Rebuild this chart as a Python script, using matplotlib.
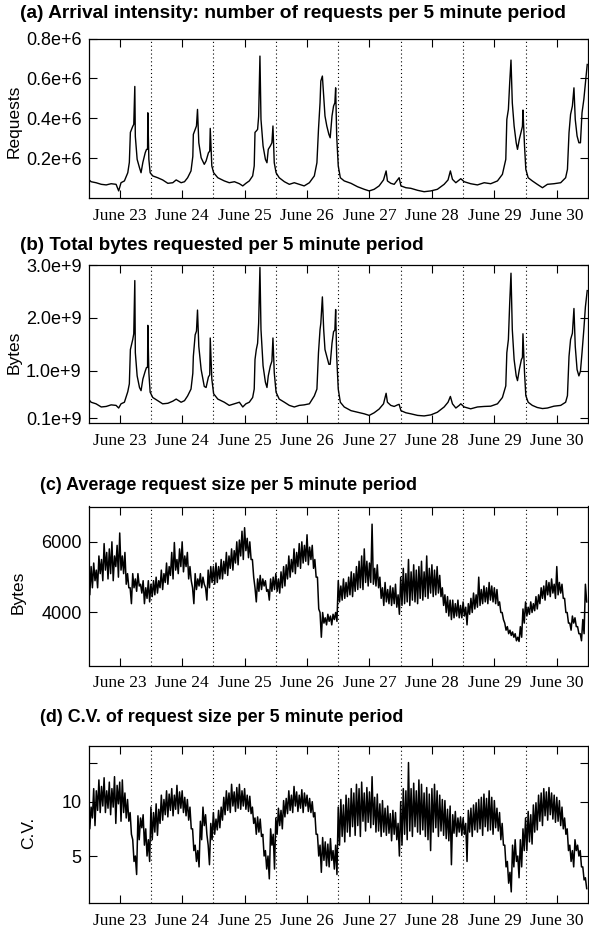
import numpy as np
import matplotlib
matplotlib.use("Agg")
import matplotlib.pyplot as plt

# ---------------- data ----------------
day_labels = ["June 23", "June 24", "June 25", "June 26",
              "June 27", "June 28", "June 29", "June 30"]

# sample times (hours since June 23 00:00) for panels (a) and (b)
hours_ab = [
    0.0, 1.0, 2.9, 4.9, 6.8, 8.7, 10.6, 11.6, 12.5, 13.8, 15.1, 15.7, 16.1, 17.0, 17.4, 17.8,
    18.0, 18.7, 19.6, 20.2, 20.9, 21.8, 22.3, 22.7, 22.8, 23.2, 23.7, 24.7, 26.6, 28.5, 30.5,
    32.4, 33.7, 35.6, 36.9, 38.1, 39.4, 40.1, 40.3, 41.0, 41.5, 41.9, 42.4, 43.3, 44.5, 45.2,
    46.1, 46.6, 46.8, 47.4, 48.1, 49.7, 52.2, 54.1, 56.1, 58.0, 59.3, 60.5, 61.8, 63.1, 63.7,
    64.0, 64.5, 65.0, 65.4, 65.9, 66.3, 67.1, 68.0, 68.6, 69.1, 69.9, 70.5, 70.9, 71.4, 72.1,
    73.3, 75.3, 77.2, 79.1, 81.0, 82.9, 84.9, 86.8, 87.8, 88.4, 89.0, 89.3, 89.9, 90.4, 90.9,
    91.6, 92.4, 92.9, 93.6, 94.2, 94.7, 95.0, 95.4, 96.0, 96.8, 98.3, 100.9, 103.4, 106.0,
    107.9, 109.8, 111.7, 113.4, 114.4, 114.9, 116.2, 117.5, 118.8, 119.4, 120.1, 122.0, 123.9,
    126.5, 129.0, 131.6, 134.1, 136.7, 138.2, 139.1, 139.9, 141.2, 142.5, 143.1, 144.4, 146.9,
    149.5, 152.1, 154.6, 157.2, 159.1, 160.4, 160.8, 161.4, 161.9, 162.4, 162.9, 163.6, 164.4,
    164.9, 165.6, 166.4, 166.8, 167.0, 167.6, 168.1, 169.0, 170.6, 172.5, 174.5, 176.4, 178.9,
    181.5, 183.4, 184.1, 184.7, 185.3, 186.0, 186.6, 187.1, 187.8, 188.5, 189.1, 189.7, 190.4,
    191.0, 191.7,
]

# (a) requests per 5 min, in millions
requests = [
    0.095, 0.083, 0.078, 0.070, 0.067, 0.073, 0.070, 0.037, 0.078, 0.087, 0.128, 0.180, 0.330, 0.360, 0.370, 0.560,
    0.310, 0.195, 0.153, 0.128, 0.180, 0.228, 0.245, 0.245, 0.428, 0.195, 0.128, 0.112, 0.103, 0.092, 0.075,
    0.078, 0.092, 0.078, 0.083, 0.103, 0.137, 0.210, 0.320, 0.345, 0.362, 0.445, 0.278, 0.203, 0.170, 0.187,
    0.228, 0.236, 0.350, 0.162, 0.128, 0.103, 0.087, 0.078, 0.083, 0.073, 0.062, 0.075, 0.087, 0.112, 0.162,
    0.330, 0.337, 0.345, 0.410, 0.712, 0.395, 0.262, 0.195, 0.178, 0.245, 0.262, 0.278, 0.362, 0.178, 0.128,
    0.103, 0.083, 0.070, 0.078, 0.070, 0.062, 0.078, 0.112, 0.178, 0.345, 0.478, 0.587, 0.612, 0.512, 0.412,
    0.362, 0.320, 0.303, 0.412, 0.462, 0.478, 0.553, 0.312, 0.162, 0.103, 0.087, 0.075, 0.058, 0.045,
    0.037, 0.045, 0.062, 0.092, 0.137, 0.087, 0.075, 0.070, 0.092, 0.103, 0.062, 0.053, 0.050,
    0.040, 0.033, 0.037, 0.045, 0.070, 0.092, 0.137, 0.095, 0.078, 0.092, 0.098, 0.083, 0.073,
    0.067, 0.078, 0.073, 0.087, 0.120, 0.195, 0.395, 0.445, 0.578, 0.692, 0.478, 0.362, 0.278,
    0.245, 0.295, 0.337, 0.360, 0.442, 0.262, 0.145, 0.103, 0.087, 0.070, 0.053, 0.070, 0.073,
    0.078, 0.103, 0.145, 0.328, 0.420, 0.462, 0.553, 0.395, 0.312, 0.278, 0.278, 0.428, 0.495,
    0.578, 0.670,
]

# (b) bytes per 5 min, in 1e9
bytes_total = [
    0.46, 0.40, 0.37, 0.31, 0.32, 0.35, 0.34, 0.29, 0.37, 0.40, 0.60, 0.75, 1.40, 1.59, 1.70, 2.71,
    1.34, 0.90, 0.68, 0.62, 0.84, 0.99, 1.06, 1.06, 1.86, 0.96, 0.59, 0.49, 0.43, 0.37, 0.38,
    0.42, 0.46, 0.40, 0.43, 0.52, 0.65, 0.95, 1.27, 1.68, 1.75, 2.15, 1.46, 1.02, 0.70, 0.68,
    0.88, 0.92, 1.62, 0.84, 0.56, 0.46, 0.40, 0.34, 0.37, 0.40, 0.31, 0.37, 0.40, 0.49, 0.65,
    1.21, 1.40, 1.52, 1.90, 2.96, 1.78, 1.09, 0.78, 0.68, 0.90, 1.09, 1.18, 1.62, 0.96, 0.59,
    0.46, 0.40, 0.34, 0.31, 0.34, 0.35, 0.37, 0.52, 0.65, 1.34, 1.78, 1.90, 2.40, 1.78, 1.40,
    1.27, 1.12, 1.12, 1.52, 1.74, 1.77, 2.16, 1.27, 0.65, 0.40, 0.31, 0.24, 0.21, 0.18,
    0.15, 0.20, 0.27, 0.37, 0.57, 0.40, 0.34, 0.32, 0.35, 0.36, 0.24, 0.20, 0.18,
    0.15, 0.14, 0.16, 0.21, 0.31, 0.40, 0.51, 0.37, 0.29, 0.34, 0.37, 0.31, 0.275,
    0.31, 0.32, 0.325, 0.37, 0.49, 0.71, 1.34, 1.59, 2.28, 2.85, 1.78, 1.21, 0.90,
    0.81, 1.02, 1.21, 1.25, 1.70, 0.96, 0.525, 0.40, 0.34, 0.30, 0.28, 0.29, 0.325,
    0.34, 0.40, 0.525, 1.27, 1.59, 1.71, 2.18, 1.46, 1.02, 0.90, 0.99, 1.34, 1.78,
    2.21, 2.52,
]

# (c) average request size (bytes): hourly upper / lower edge of the noisy trace
avg_hi = [
    5000, 5300, 5400, 5200, 5600, 5500, 5950, 5700, 5800, 6000, 5600, 5900, 6250, 5600, 5700, 5100, 4700, 5100, 4950, 5100, 4800, 4900, 4700, 4900,
    4800, 4900, 5000, 4900, 5200, 5100, 5400, 5300, 5700, 5980, 5500, 5800, 6000, 5600, 5700, 5300, 4700, 5100, 4950, 5100, 5000, 4700, 5200, 5300,
    5300, 5400, 5300, 5500, 5450, 5700, 5600, 5800, 5750, 6000, 6050, 6300, 6400, 6100, 6000, 5500, 4700, 4950, 5050, 4950, 4900, 4650, 4950, 5000,
    5100, 4950, 5150, 5300, 5350, 5600, 5500, 5800, 5700, 5950, 6000, 5900, 6200, 5850, 5900, 5500, 5000, 4000, 4000, 3850, 3950, 3900, 3950, 4000,
    4900, 4750, 4950, 4850, 5000, 5150, 5100, 5300, 5450, 5600, 5800, 5450, 5400, 6500, 5250, 5350, 5000, 4700, 4850, 4650, 4750, 4700, 4800, 4500,
    5000, 5250, 5100, 5500, 5150, 5350, 5200, 5300, 5450, 5150, 5600, 5250, 5350, 5200, 5300, 5050, 4700, 4500, 4450, 4350, 4350, 4250, 4350, 4200,
    4300, 4150, 4250, 4400, 4550, 4500, 5000, 4650, 4750, 4700, 4850, 4750, 4700, 4650, 4300, 4000, 3700, 3600, 3500, 3450, 3400, 3300, 3600, 4100,
    4300, 4150, 4300, 4250, 4450, 4500, 4700, 4750, 4900, 4850, 4950, 4800, 5300, 4850, 4800, 4400, 4000, 3700, 3900, 3850, 3600, 3400, 3800, 4800,
]
avg_lo = [
    4500, 4700, 4900, 4700, 5100, 4900, 5200, 4950, 5100, 4900, 5300, 5000, 5200, 5100, 4800, 4700, 4250, 4700, 4600, 4750, 4550, 4250, 4400, 4300,
    4450, 4500, 4550, 4700, 4650, 4850, 4800, 5050, 4950, 5200, 5100, 5300, 5150, 5300, 4950, 4900, 4250, 4650, 4750, 4700, 4800, 4350, 4700, 4850,
    4800, 4850, 4950, 4950, 5100, 5050, 5250, 5200, 5400, 5350, 5600, 5500, 5750, 5550, 5500, 5000, 4300, 4600, 4650, 4750, 4600, 4350, 4600, 4650,
    4600, 4550, 4700, 4750, 4950, 5000, 5150, 5100, 5300, 5250, 5400, 5450, 5350, 5500, 5250, 5000, 4100, 3300, 3700, 3650, 3750, 3650, 3800, 3750,
    4300, 4350, 4400, 4450, 4500, 4450, 4600, 4650, 4700, 4650, 4850, 4750, 4850, 4800, 4750, 4700, 4400, 4200, 4300, 4250, 4200, 4250, 4150, 3950,
    4200, 4250, 4300, 4200, 4350, 4300, 4250, 4400, 4350, 4450, 4400, 4550, 4450, 4500, 4550, 4450, 4200, 4000, 3900, 3800, 3850, 3900, 3850, 3850,
    3900, 3650, 3950, 4000, 4100, 4150, 4200, 4250, 4300, 4250, 4350, 4300, 4250, 4200, 4000, 3800, 3500, 3400, 3350, 3300, 3200, 3180, 3300, 3700,
    3900, 3950, 4000, 4050, 4100, 4250, 4400, 4350, 4500, 4450, 4550, 4400, 4500, 4550, 4400, 4000, 3700, 3500, 3700, 3600, 3400, 3200, 3400, 4300,
]

# (d) C.V. of request size: hourly upper / lower edge of the noisy trace
cv_hi = [
    10.0, 9.5, 11.2, 11.0, 12.0, 11.4, 12.2, 11.0, 11.8, 11.2, 12.3, 11.5, 11.8, 12.0, 10.8, 10.2, 9.0, 6.5, 5.0, 8.7, 8.5, 8.8, 7.5, 6.5,
    9.5, 9.0, 9.8, 9.3, 10.6, 10.2, 11.0, 10.7, 11.2, 10.6, 11.5, 10.9, 11.0, 10.4, 10.2, 9.5, 7.5, 6.0, 5.5, 8.2, 9.5, 8.8, 6.0, 8.0,
    9.0, 8.4, 9.2, 9.5, 10.4, 11.0, 10.8, 11.6, 10.9, 11.3, 11.6, 11.0, 11.2, 10.6, 10.5, 9.5, 8.5, 8.6, 8.4, 7.0, 5.5, 5.0, 7.5, 7.0,
    8.5, 9.4, 9.2, 10.1, 10.3, 11.0, 10.6, 11.4, 10.9, 10.6, 11.1, 10.8, 10.6, 10.3, 10.0, 9.0, 7.0, 6.0, 6.7, 6.3, 6.1, 6.6, 5.5, 6.0,
    9.5, 10.2, 9.7, 10.6, 10.3, 11.2, 10.8, 11.6, 11.2, 11.8, 10.8, 11.3, 10.9, 12.3, 10.4, 10.7, 9.8, 10.1, 9.4, 9.6, 8.9, 9.2, 9.0, 8.0,
    10.0, 11.2, 11.0, 13.6, 11.2, 11.7, 11.0, 12.0, 11.6, 10.8, 11.3, 10.7, 11.2, 11.6, 11.0, 10.6, 10.2, 10.1, 9.3, 9.6, 8.8, 9.1, 8.5, 8.6,
    8.5, 8.0, 9.2, 9.4, 9.7, 9.9, 10.2, 10.4, 10.7, 10.3, 11.0, 10.4, 10.1, 9.4, 9.0, 8.0, 6.0, 4.5, 3.5, 6.0, 6.5, 5.0, 6.5, 7.5,
    8.5, 9.1, 8.8, 9.7, 9.9, 10.6, 10.8, 11.2, 10.9, 11.3, 10.8, 10.6, 10.4, 10.1, 9.5, 8.5, 7.5, 6.0, 5.5, 6.5, 6.0, 5.5, 4.0, 3.0,
]
cv_lo = [
    7.5, 8.5, 7.8, 9.2, 9.0, 9.6, 9.0, 9.4, 8.8, 9.5, 8.0, 9.8, 8.2, 9.0, 8.5, 8.2, 7.0, 4.5, 3.3, 6.5, 7.6, 6.0, 5.0, 4.5,
    6.5, 7.2, 6.9, 8.0, 8.3, 8.8, 8.6, 9.2, 8.7, 9.3, 8.9, 9.4, 9.0, 8.7, 8.3, 7.5, 5.5, 4.5, 4.0, 6.5, 7.8, 7.0, 4.2, 6.5,
    7.0, 7.4, 7.6, 8.3, 8.8, 9.2, 9.0, 9.6, 9.1, 9.4, 9.3, 9.6, 9.3, 9.1, 8.9, 8.0, 7.0, 7.2, 6.8, 5.0, 3.8, 2.9, 6.0, 3.8,
    7.0, 7.8, 7.5, 8.6, 8.9, 9.2, 9.0, 9.6, 9.1, 9.4, 9.0, 9.6, 9.1, 9.0, 8.6, 7.0, 5.0, 3.5, 4.6, 4.1, 4.0, 4.6, 3.8, 3.3,
    6.0, 6.8, 6.3, 7.2, 6.8, 7.7, 6.9, 7.8, 6.8, 8.2, 7.3, 8.1, 7.6, 7.9, 7.2, 7.3, 6.8, 7.2, 6.9, 7.1, 6.4, 7.0, 6.5, 5.0,
    6.0, 7.0, 6.5, 7.3, 6.8, 7.7, 7.2, 7.0, 7.4, 6.8, 6.5, 5.5, 7.2, 7.6, 6.8, 7.3, 6.9, 6.6, 6.4, 4.2, 7.1, 6.8, 7.2, 6.9,
    7.0, 4.5, 7.2, 6.8, 7.4, 7.2, 7.5, 6.9, 7.7, 7.3, 7.4, 7.0, 7.6, 7.3, 6.5, 6.0, 4.0, 2.5, 1.7, 4.0, 4.5, 3.0, 4.0, 5.5,
    5.5, 6.3, 6.1, 7.2, 7.4, 8.2, 7.8, 8.7, 8.3, 8.8, 8.4, 8.1, 8.2, 7.8, 7.5, 7.0, 5.5, 4.5, 4.0, 5.5, 5.0, 4.0, 2.8, 2.0,
]

t_ab = np.array(hours_ab) / 24.0

# noisy traces: alternate upper and lower edge every half hour
avg_size = np.column_stack([avg_hi, avg_lo]).ravel()
cv_size = np.column_stack([cv_hi, cv_lo]).ravel()
t_half = np.arange(len(avg_size)) / 48.0

# ---------------- figure ----------------
fig = plt.figure(figsize=(5.89, 9.32), dpi=100)
W, H = 589.0, 932.0


def px_axes(top, bottom, left=88.5, right=588.0):
    return fig.add_axes([left / W, 1 - bottom / H, (right - left) / W, (bottom - top) / H])


sans = "Liberation Sans"
serif = "Liberation Serif"

panels = [
    dict(box=(38.5, 198.3), x=t_ab, y=np.array(requests) * 1e6, ylim=(0, 0.8e6),
         yt=[0.2e6, 0.4e6, 0.6e6, 0.8e6], ytl=["0.2e+6", "0.4e+6", "0.6e+6", "0.8e+6"],
         ylab="Requests", ylx=-0.133, yly=0.48, lw=1.0,
         title="(a) Arrival intensity: number of requests per 5 minute period",
         tx=20, ty=14, tfs=13.8),
    dict(box=(265.3, 423.3), x=t_ab, y=np.array(bytes_total) * 1e9, ylim=(0, 3.0e9),
         yt=[0.1e9, 1.0e9, 2.0e9, 3.0e9], ytl=["0.1e+9", "1.0e+9", "2.0e+9", "3.0e+9"],
         ylab="Bytes", ylx=-0.133, yly=0.45, lw=1.0,
         title="(b) Total bytes requested per 5 minute period",
         tx=20, ty=245, tfs=13.6),
    dict(box=(506.5, 665.5), x=t_half, y=avg_size, ylim=(2500, 7000),
         yt=[4000, 6000], ytl=["4000", "6000"],
         ylab="Bytes", ylx=-0.125, yly=0.46, lw=1.1,
         title="(c) Average request size per 5 minute period",
         tx=40, ty=486, tfs=12.9),
    dict(box=(745.7, 903.3), x=t_half, y=cv_size, ylim=(0.65, 15.15),
         yt=[5, 10], ytl=["5", "10"],
         ylab="C.V.", ylx=-0.105, yly=0.45, lw=1.1,
         title="(d) C.V. of request size per 5 minute period",
         tx=40, ty=718, tfs=12.9),
]

for p in panels:
    ax = px_axes(*p["box"])
    ax.plot(p["x"], p["y"], color="black", lw=p["lw"])
    for d in range(1, len(day_labels)):
        ax.axvline(d, color="black", lw=0.8, ls=(0, (1, 2.5)), zorder=1)
    ax.set_xlim(0, len(day_labels))
    ax.set_ylim(*p["ylim"])
    ax.set_xticks(np.arange(len(day_labels)) + 0.5)
    ax.set_xticklabels(day_labels, fontfamily=serif, fontsize=12.5)
    ax.set_yticks(p["yt"])
    ax.set_yticklabels(p["ytl"], fontfamily=sans, fontsize=13)
    if p["ylab"] == "C.V.":
        ax.set_yticks([13.6], minor=True)
    ax.tick_params(which="both", direction="in", top=True, right=True,
                   length=6, width=0.8, pad=5)
    ax.tick_params(axis="x", pad=7)
    for s in ax.spines.values():
        s.set_linewidth(0.9)
    ax.set_ylabel(p["ylab"], fontfamily=sans, fontsize=12.5)
    ax.yaxis.set_label_coords(p["ylx"], p["yly"])
    fig.text(p["tx"] / W, 1 - p["ty"] / H, p["title"], fontfamily=sans,
             fontweight="bold", fontsize=p["tfs"], ha="left", va="center")

fig.savefig("out.png", dpi=100)
